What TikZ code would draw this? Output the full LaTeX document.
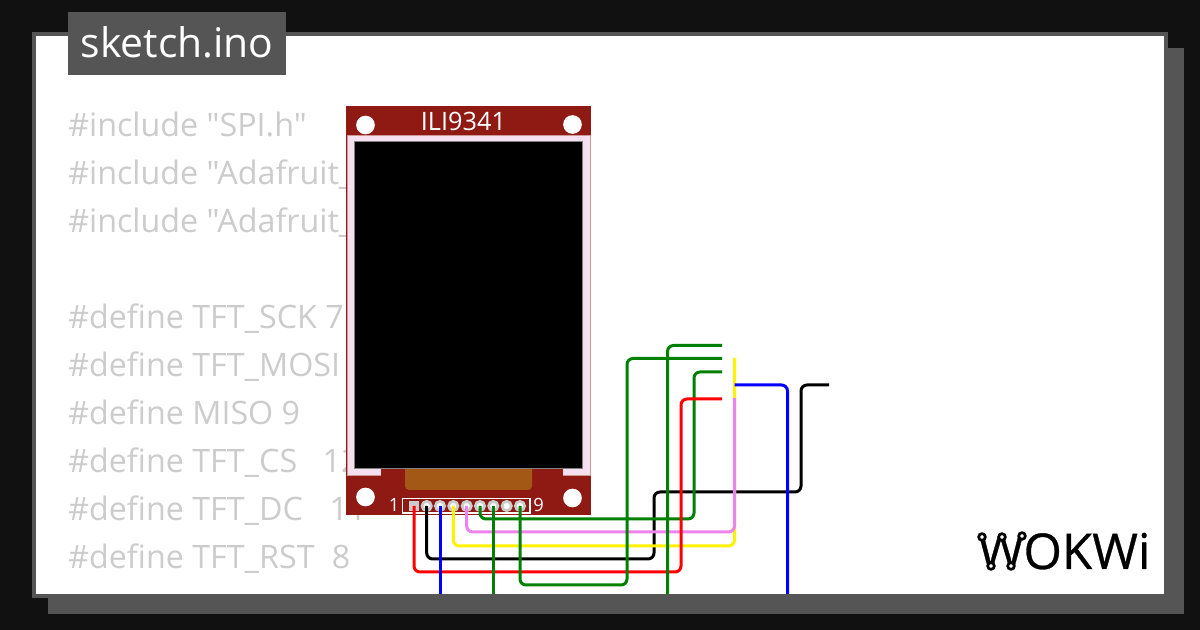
\documentclass[tikz,border=0pt]{standalone}
\usepackage{fontspec}
\setmainfont{Open Sans}
\newfontfamily\codefont{Open Sans}
\newfontfamily\logofont[FakeBold=0.6]{Open Sans}
\definecolor{pagebg}{HTML}{111111}
\definecolor{frameg}{HTML}{555555}
\definecolor{codeg}{HTML}{CCCCCC}
\definecolor{pcb}{HTML}{8F1A14}
\definecolor{lcdpink}{HTML}{F5E0F0}
\definecolor{flex}{HTML}{A35815}
\definecolor{wgreen}{HTML}{008000}
\definecolor{wviolet}{HTML}{EE82EE}
\tikzset{
  x=0.75pt,y=-0.75pt,
  code/.style={anchor=base west,inner sep=0pt,text=codeg,font=\codefont\fontsize{24.2}{24.2}\selectfont},
  wire/.style={line width=2.25pt,rounded corners=4.5pt},
  hole/.style={circle,fill=white,minimum size=14pt,inner sep=0pt},
  pinhole/.style={circle,draw=codeg,fill=white,line width=2pt,minimum size=7pt,inner sep=0pt},
  pinsq/.style={rectangle,fill=codeg,minimum size=8pt,inner sep=0pt},
  silk/.style={text=white,inner sep=0pt,font=\fontsize{13.7}{13.7}\selectfont},
  logoring/.style={circle,draw=black,fill=white,line width=2pt,minimum size=5pt,inner sep=0pt},
}
\begin{document}
\begin{tikzpicture}
\useasboundingbox (0,0) rectangle (1200,630);
\fill[pagebg] (0,0) rectangle (1200,630);
\fill[frameg] (48,48) rectangle (1184,614);
\fill[white,draw=frameg,line width=3pt] (34,34) rectangle (1166,596);
% tab
\fill[frameg] (68,12) rectangle (286,75);
\node[anchor=base west,inner sep=0pt,text=white,font=\fontsize{30.6}{30.6}\selectfont] (tab) at (80.5,58) {sketch.ino};
% code
\node[code] (l1) at (68,136.5) {\#include \char34 SPI.h\char34};
\node[code] (l2) at (68,184.5) {\#include \char34 Adafruit\_};
\node[code] (l3) at (68,232.5) {\#include \char34 Adafruit\_};
\node[code] (l4) at (68,328.5) {\#define TFT\_SCK 7};
\node[code] (l5) at (68,376.5) {\#define TFT\_MOSI};
\node[code] (l6) at (68,424.5) {\#define MISO 9};
\node[code] (l7) at (68,472.5) {\#define TFT\_CS\hspace{19pt}12};
\node[code] (l8) at (68,520.5) {\#define TFT\_DC\hspace{20pt}11};
\node[code] (l9) at (68,568.5) {\#define TFT\_RST\hspace{13pt}8};
% board
\fill[pcb] (346,106) rectangle (590.5,515);
\fill[lcdpink,draw=pcb!45!white,line width=0.75pt] (347,135.5) rectangle (590,476);
\fill[pcb] (381,468) rectangle (563,476);
\fill[flex,rounded corners=3pt] (405,460) rectangle (532,490);
\fill[black,draw=gray,line width=0.4pt] (354,141.5) rectangle (582.5,468);
\node[hole] (h1) at (365.5,125) {};
\node[hole] (h2) at (572.5,124.5) {};
\node[hole] (h3) at (365.5,497) {};
\node[hole] (h4) at (572.5,498) {};
\node[text=white,inner sep=0pt,font=\fontsize{19}{19}\selectfont] (title) at (463.5,121) {ILI9341};
\draw[white,line width=0.8pt] (402.5,498.5) rectangle (530,513);
\node[silk] (n1) at (394,505) {1};
\node[silk] (n9) at (538.5,505) {9};
\node[pinsq] (pin1) at (414,506) {};
\foreach \i/\x in {2/426.7,3/440,4/453.3,5/466.7,6/480,7/493.3,8/506.7,9/520}
  \node[pinhole] (pin\i) at (\x,506) {};
% free ends
\coordinate (redEnd) at (722,399);
\coordinate (blackEnd) at (829,385);
\coordinate (blueEnd) at (440,594);
\coordinate (yellowEnd) at (734.5,358);
\coordinate (violetEnd) at (734.5,398);
\coordinate (greenAEnd) at (722,372);
\coordinate (greenBEnd) at (493.3,594);
\coordinate (greenCEnd) at (722,358.5);
\coordinate (greenDa) at (722,345.5);
\coordinate (greenDb) at (667.5,594);
\coordinate (blueA) at (734.5,385);
\coordinate (blueB) at (787.5,594);
% wires
\draw[wire,black] (pin2.center) -- (426.7,559) -- (654,559) -- (654,492) -- (801,492) -- (801,385) -- (blackEnd);
\draw[wire,wgreen] (pin6.center) -- (480,519) -- (694,519) -- (694,372) -- (greenAEnd);
\draw[wire,yellow] (pin4.center) -- (453.3,546) -- (734.5,546) -- (yellowEnd);
\draw[wire,wviolet] (pin5.center) -- (466.7,532) -- (734.5,532) -- (violetEnd);
\draw[wire,red] (pin1.center) -- (414,572) -- (681,572) -- (681,399) -- (redEnd);
\draw[wire,blue] (pin3.center) -- (blueEnd);
\draw[wire,blue] (blueA) -- (787.5,385) -- (blueB);
\draw[wire,wgreen] (pin7.center) -- (greenBEnd);
\draw[wire,wgreen] (pin9.center) -- (520,585) -- (627,585) -- (627,358.5) -- (greenCEnd);
\draw[wire,wgreen] (greenDa) -- (667.5,345.5) -- (greenDb);
% logo
\node[anchor=base west,inner sep=0pt,text=black,font=\logofont\fontsize{37}{37}\selectfont] (logo) at (978,569) {WOKWi};
\node[logoring] (r1) at (982,537) {};
\node[logoring] (r2) at (1002,537) {};
\node[logoring] (r3) at (1022,536) {};
\node[logoring] (r4) at (991,566) {};
\node[logoring] (r5) at (1011,566) {};
\end{tikzpicture}
\end{document}
